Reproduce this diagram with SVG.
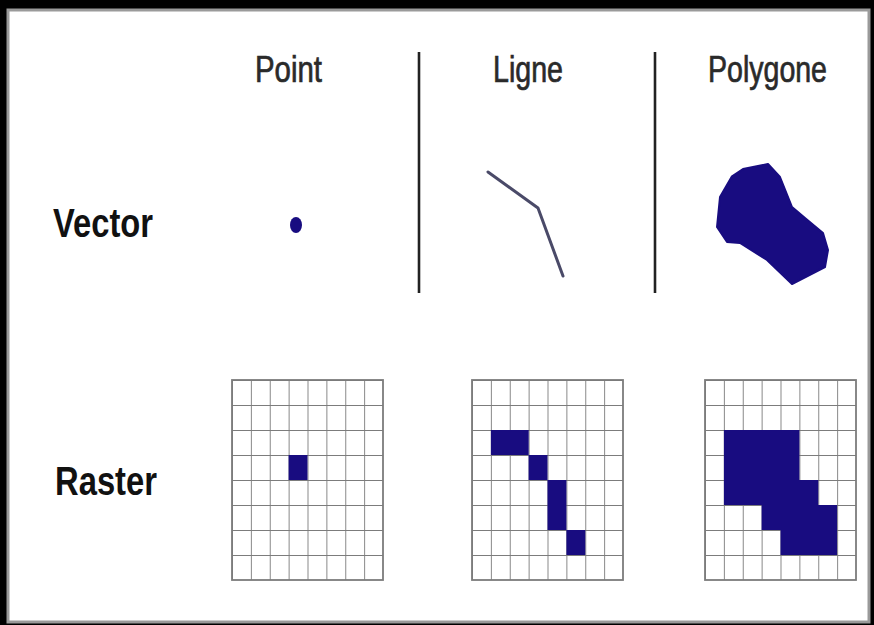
<svg xmlns="http://www.w3.org/2000/svg" width="874" height="625" viewBox="0 0 874 625">
<defs>
<style>
.hdr{font-family:"Liberation Sans",Arial,sans-serif;font-size:36px;fill:#2a2a2a;stroke:#2a2a2a;stroke-width:0.7}
.row{font-family:"Liberation Sans",Arial,sans-serif;font-size:40px;font-weight:bold;fill:#111}
.grid{stroke:#7c7c7c;stroke-width:1.8;fill:none}
.fill{fill:#180c80}
.sep{stroke:#222;stroke-width:2.6}
</style>
<pattern id="cells" x="0" y="0" width="18.875" height="25" patternUnits="userSpaceOnUse">
<path d="M0 0H18.875M0 0V25" stroke="#7c7c7c" stroke-width="1.8" fill="none"/>
</pattern>
</defs>
<rect x="0" y="0" width="874" height="625" fill="#000"/>
<rect x="8" y="10" width="861" height="612" fill="#fff" stroke="#9a9a9a" stroke-width="3"/>

<g id="headers">
<text class="hdr" x="255" y="82" textLength="67" lengthAdjust="spacingAndGlyphs">Point</text>
<text class="hdr" x="493" y="82" textLength="70" lengthAdjust="spacingAndGlyphs">Ligne</text>
<text class="hdr" x="708" y="82" textLength="119" lengthAdjust="spacingAndGlyphs">Polygone</text>
</g>
<g id="row-labels">
<text class="row" x="53" y="237" textLength="100" lengthAdjust="spacingAndGlyphs">Vector</text>
<text class="row" x="55" y="495" textLength="102" lengthAdjust="spacingAndGlyphs">Raster</text>
</g>
<g id="separators">
<line class="sep" x1="419" y1="52" x2="419" y2="293"/>
<line class="sep" x1="655" y1="52" x2="655" y2="293"/>
</g>

<g id="vector-point">
<ellipse cx="296" cy="225" rx="6" ry="8" class="fill"/>
</g>
<g id="vector-line">
<polyline points="488,172 538,208 563,276" fill="none" stroke="#4a4a68" stroke-width="3" stroke-linecap="round" stroke-linejoin="round"/>
</g>
<g id="vector-polygon">
<path class="fill" d="M731.7,176.7 L743,169 L768,164 L780,177 L792,207 L805,218 L823,233 L828,250 L825,267 L792,284 L767,260 L740,243 L727,242 L717,227 L720,197 Z" stroke="#180c80" stroke-width="2" stroke-linejoin="round"/>
</g>

<g id="raster-point" transform="translate(232,380)">
<rect x="0" y="0" width="151" height="200" fill="url(#cells)"/>
<rect class="fill" x="56.6" y="75" width="18.9" height="25"/>
<rect class="grid" x="0" y="0" width="151" height="200"/>
</g>
<g id="raster-line" transform="translate(472,380)">
<rect x="0" y="0" width="151" height="200" fill="url(#cells)"/>
<rect class="fill" x="18.9" y="50" width="37.8" height="25"/>
<rect class="fill" x="56.6" y="75" width="18.9" height="25"/>
<rect class="fill" x="75.5" y="100" width="18.9" height="50"/>
<rect class="fill" x="94.4" y="150" width="18.9" height="25"/>
<rect class="grid" x="0" y="0" width="151" height="200"/>
</g>
<g id="raster-polygon" transform="translate(705,380)">
<rect x="0" y="0" width="151" height="200" fill="url(#cells)"/>
<path class="fill" d="M18.9,50 H94.4 V100 H113.3 V125 H132.1 V175 H75.5 V150 H56.6 V125 H18.9 Z"/>
<rect class="grid" x="0" y="0" width="151" height="200"/>
</g>
</svg>
